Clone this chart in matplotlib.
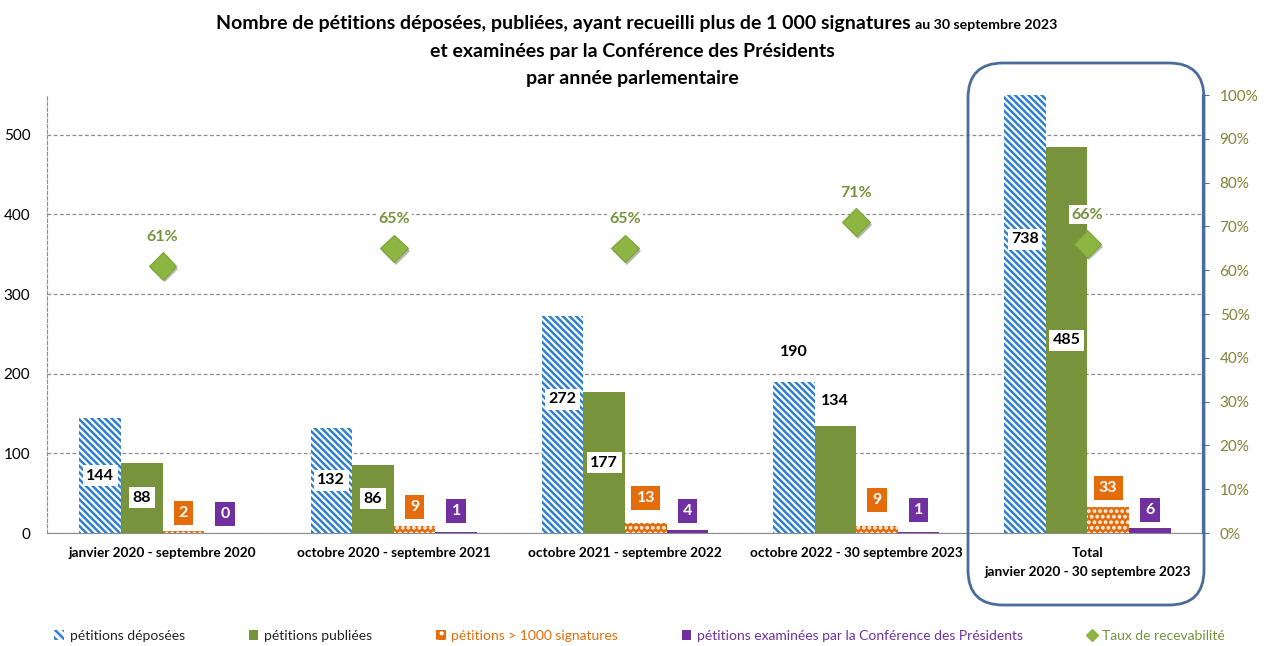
import matplotlib
matplotlib.use("Agg")
import matplotlib.pyplot as plt
import matplotlib.patheffects as pe
from matplotlib.patches import Patch, FancyBboxPatch
from matplotlib.lines import Line2D
from matplotlib.ticker import PercentFormatter
import numpy as np

plt.rcParams['font.family'] = ['Lato', 'DejaVu Sans']
plt.rcParams['hatch.linewidth'] = 1.8

# data per parliamentary year
categories = ['janvier 2020 - septembre 2020',
              'octobre 2020 - septembre 2021',
              'octobre 2021 - septembre 2022',
              'octobre 2022 - 30 septembre 2023',
              'Total\njanvier 2020 - 30 septembre 2023']
deposees = [144, 132, 272, 190, 738]
publiees = [88, 86, 177, 134, 485]
sup_1000 = [2, 9, 13, 9, 33]
examinees = [0, 1, 4, 1, 6]
taux = [0.61, 0.65, 0.65, 0.71, 0.66]

# where the value labels sit (left-axis units)
lab_dep_y = [72, 66, 168, 227, 369]
lab_pub_y = [44, 43, 88, 166, 242]
lab_sup_y = [25, 33, 44, 41, 57]
lab_exa_y = [24, 28, 28, 29, 29]
boxed_dep = [True, True, True, False, True]
boxed_pub = [True, True, True, False, True]

BLUE = '#2F80D0'
GREEN = '#77933C'
ORANGE = '#E46C0A'
PURPLE = '#7030A0'
OLIVE = '#76923C'
DIAMOND = '#8DB542'
FRAME = '#4A6C9B'
GRID = '#8C8C8C'

fig = plt.figure(figsize=(12.64, 6.46), dpi=100)
ax = fig.add_axes([0.0372, 0.1749, 0.9145, 0.678])
ax2 = ax.twinx()

x = np.arange(len(categories))
w = 0.18
offs = [-0.27, -0.09, 0.09, 0.27]

ax.bar(x + offs[0], deposees, w, facecolor='white', edgecolor=BLUE,
       hatch='\\\\\\\\\\', linewidth=0)
ax.bar(x + offs[1], publiees, w, color=GREEN, linewidth=0)
ax.bar(x + offs[2], sup_1000, w, facecolor=ORANGE, edgecolor='white',
       hatch='...', linewidth=0)
ax.bar(x + offs[3], examinees, w, color=PURPLE, linewidth=0)

ax.set_xlim(-0.5, len(categories) - 0.5)
ax.set_ylim(0, 550)
ax.set_yticks(range(0, 501, 100))
ax.yaxis.grid(True, linestyle=(0, (3, 2)), color=GRID, linewidth=0.9)
ax.set_axisbelow(True)
ax.tick_params(axis='y', length=0, labelsize=11, pad=12)
ax.set_xticks(x, categories)
ax.tick_params(axis='x', length=0, labelsize=9.8, pad=10)
for t in ax.get_xticklabels():
    t.set_fontweight('bold')
    t.set_linespacing(1.75)

ax.spines['top'].set_visible(False)
ax.spines['right'].set_visible(False)
ax.spines['bottom'].set_color(GRID)
ax.spines['left'].set_color(GRID)
ax.spines['left'].set_linestyle((0, (3, 2)))

white_box = dict(boxstyle='square,pad=0.22', facecolor='white', edgecolor='none')
for i in range(len(categories)):
    ax.text(x[i] + offs[0], lab_dep_y[i], str(deposees[i]), ha='center', va='center',
            fontsize=11.5, fontweight='bold', color='black',
            bbox=white_box if boxed_dep[i] else None)
    ax.text(x[i] + offs[1], lab_pub_y[i], str(publiees[i]), ha='center', va='center',
            fontsize=11.5, fontweight='bold', color='black',
            bbox=white_box if boxed_pub[i] else None)
    ax.text(x[i] + offs[2], lab_sup_y[i], str(sup_1000[i]), ha='center', va='center',
            fontsize=11.5, fontweight='bold', color='white',
            bbox=dict(boxstyle='square,pad=0.32', facecolor=ORANGE, edgecolor='none'))
    ax.text(x[i] + offs[3], lab_exa_y[i], str(examinees[i]), ha='center', va='center',
            fontsize=11.5, fontweight='bold', color='white',
            bbox=dict(boxstyle='square,pad=0.32', facecolor=PURPLE, edgecolor='none'))

# acceptance rate on the right axis
ax2.plot(x, taux, linestyle='none', marker='D', markersize=14, color=DIAMOND,
         markeredgecolor='#7BA236', markeredgewidth=0.8,
         path_effects=[pe.SimplePatchShadow(offset=(1.5, -2), alpha=0.35), pe.Normal()])
for i, v in enumerate(taux):
    ax2.annotate(f'{v:.0%}', (x[i], v), xytext=(0, 21), textcoords='offset points',
                 ha='center', va='center', fontsize=11.5, fontweight='bold', color=OLIVE,
                 bbox=dict(boxstyle='square,pad=0.15', facecolor='white', edgecolor='none'))
ax2.set_ylim(0, 1)
ax2.set_yticks(np.arange(0, 1.01, 0.1))
ax2.yaxis.set_major_formatter(PercentFormatter(1.0, decimals=0))
ax2.tick_params(axis='y', direction='out', length=4, color=FRAME, labelsize=11,
                labelcolor='#7F8433', pad=8)
for s in ['top', 'left', 'bottom']:
    ax2.spines[s].set_visible(False)
ax2.spines['right'].set_color(FRAME)
ax2.spines['right'].set_linewidth(1.6)

# rounded frame around the total group
frame = FancyBboxPatch((9.68, 0.41), 2.36, 5.42,
                       boxstyle='round,pad=0,rounding_size=0.35',
                       transform=fig.dpi_scale_trans, facecolor='none',
                       edgecolor=FRAME, linewidth=2, zorder=5)
fig.patches.append(frame)

# title
fig.text(0.7205, 0.963, 'Nombre de pétitions déposées, publiées, ayant recueilli plus de 1 000 signatures',
         ha='right', va='center', fontsize=14, fontweight='bold')
fig.text(0.7235, 0.961, 'au 30 septembre 2023', ha='left', va='center',
         fontsize=10.2, fontweight='bold')
fig.text(0.5, 0.921, 'et examinées par la Conférence des Présidents', ha='center',
         va='center', fontsize=14, fontweight='bold')
fig.text(0.5, 0.878, 'par année parlementaire', ha='center', va='center',
         fontsize=14, fontweight='bold')

# legend
handles = [
    Patch(facecolor='white', edgecolor=BLUE, hatch='\\\\\\\\', linewidth=0),
    Patch(facecolor=GREEN, linewidth=0),
    Patch(facecolor=ORANGE, edgecolor='white', hatch='..', linewidth=0),
    Patch(facecolor=PURPLE, linewidth=0),
    Line2D([], [], linestyle='none', marker='D', markersize=6, color=DIAMOND),
]
labels = ['pétitions déposées', 'pétitions publiées', 'pétitions > 1000 signatures',
          'pétitions examinées par la Conférence des Présidents', 'Taux de recevabilité']
leg = fig.legend(handles, labels, loc='center', bbox_to_anchor=(0.506, 0.016), ncol=5,
                 frameon=False, fontsize=10, handlelength=0.7, handleheight=0.7,
                 handletextpad=0.4, columnspacing=4.6)
for t, c in zip(leg.get_texts(), ['#222222', '#222222', ORANGE, PURPLE, OLIVE]):
    t.set_color(c)

fig.savefig('out.png', dpi=100)
